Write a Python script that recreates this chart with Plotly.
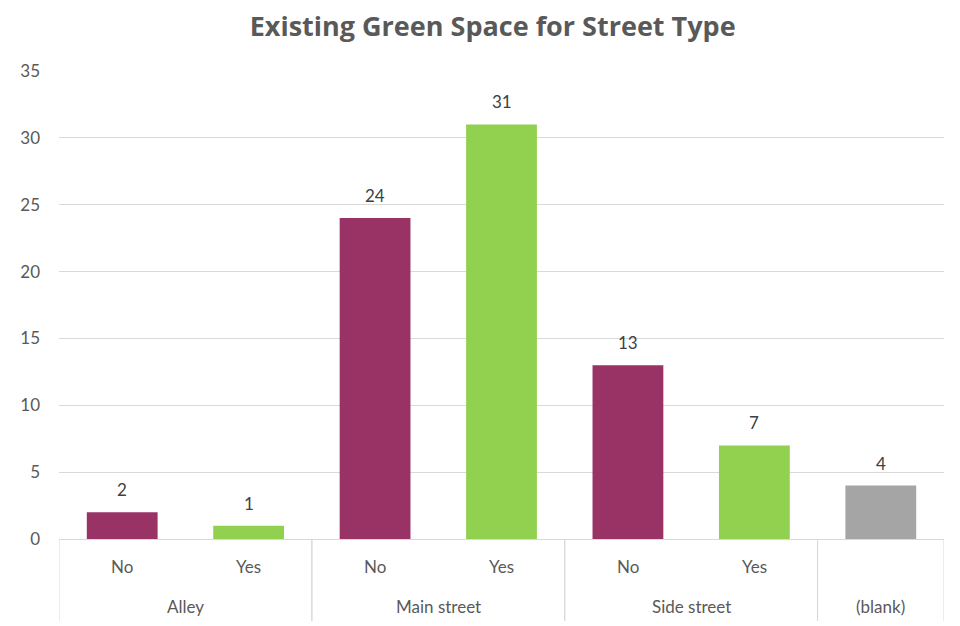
import plotly.graph_objects as go

# Street type groups, green-space answer per bar, and counts
groups = ["Alley", "Main street", "Side street", "(blank)"]
bar_group = ["Alley", "Alley", "Main street", "Main street", "Side street", "Side street", "(blank)"]
bar_answer = ["No", "Yes", "No", "Yes", "No", "Yes", ""]
counts = [2, 1, 24, 31, 13, 7, 4]

y_ticks = [0, 5, 10, 15, 20, 25, 30, 35]

PURPLE = "#993366"
GREEN = "#92D050"
GREY = "#A5A5A5"
colour_for = {"No": PURPLE, "Yes": GREEN, "": GREY}
colours = [colour_for[a] for a in bar_answer]

xpos = list(range(len(counts)))

fig = go.Figure()
fig.add_trace(go.Bar(
    x=xpos,
    y=counts,
    marker=dict(color=colours, line=dict(width=0)),
    width=0.56,
    hoverinfo="skip",
))

annotations = []
# value labels above each bar
for x, v in zip(xpos, counts):
    annotations.append(dict(
        x=x, y=v, xref="x", yref="y", text=str(v), showarrow=False,
        yanchor="bottom", yshift=10,
        font=dict(family="Lato, Open Sans, sans-serif", size=17, color="#404040"),
    ))
# inner category labels (No / Yes)
for x, a in zip(xpos, bar_answer):
    if a:
        annotations.append(dict(
            x=x, y=-0.058, xref="x", yref="paper", text=a, showarrow=False,
            yanchor="middle",
            font=dict(family="Lato, Open Sans, sans-serif", size=17, color="#595959"),
        ))
# outer group labels and group dividers
shapes = []
for g in groups:
    idx = [i for i, b in enumerate(bar_group) if b == g]
    lo, hi = min(idx) - 0.5, max(idx) + 0.5
    annotations.append(dict(
        x=(lo + hi) / 2, y=-0.145, xref="x", yref="paper", text=g, showarrow=False,
        yanchor="middle",
        font=dict(family="Lato, Open Sans, sans-serif", size=17, color="#595959"),
    ))
    for edge in (lo, hi):
        shapes.append(dict(
            type="line", xref="x", yref="paper", x0=edge, x1=edge, y0=0, y1=-0.175,
            line=dict(color="#D9D9D9", width=1),
        ))

fig.update_layout(
    width=960, height=626,
    margin=dict(l=59, r=16, t=71, b=87),
    paper_bgcolor="white", plot_bgcolor="white",
    showlegend=False,
    title=dict(
        text="<b>Existing Green Space for Street Type</b>",
        xref="paper", x=0.49, xanchor="center", y=0.958, yanchor="middle",
        font=dict(family="Open Sans, Lato, sans-serif", size=27, color="#595959"),
    ),
    xaxis=dict(
        range=[-0.5, len(counts) - 0.5],
        showticklabels=False, showgrid=False, zeroline=False,
        showline=True, linecolor="#D9D9D9", linewidth=1,
        fixedrange=True,
    ),
    yaxis=dict(
        range=[0, 35], tickvals=y_ticks,
        showgrid=True, gridcolor="#D9D9D9", gridwidth=1,
        zeroline=False, showline=False,
        ticks="", ticklabelstandoff=18,
        tickfont=dict(family="Lato, Open Sans, sans-serif", size=17, color="#595959"),
    ),
    annotations=annotations,
    shapes=shapes,
)

fig.write_html("out.html")
